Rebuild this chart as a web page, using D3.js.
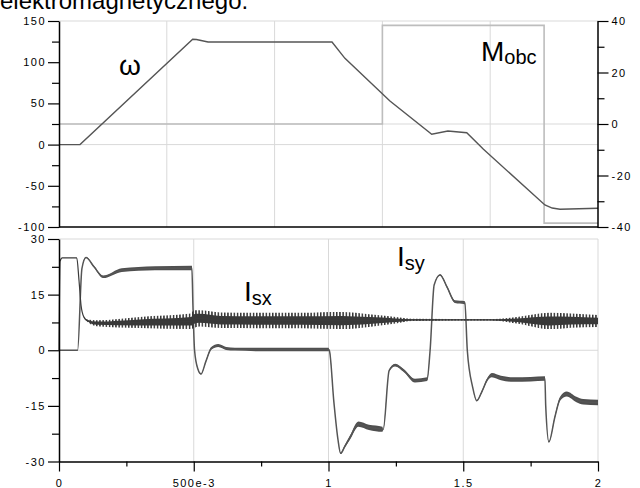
<!DOCTYPE html>
<html>
<head>
<meta charset="utf-8">
<script src="https://cdn.jsdelivr.net/npm/d3@7"></script>
<style>
  body { margin: 0; background: #fff; }
  svg { display: block; font-family: "Liberation Sans", Arial, sans-serif; }
  .tick text { font-size: 11px; letter-spacing: 1.5px; fill: #000; }
  .domain { stroke: #000; stroke-width: 1.5; }
  .tick line { stroke: #000; stroke-width: 1.2; }
</style>
</head>
<body>
<div id="chart"></div>
<script>
// speed omega (left axis, top panel)
let omT = [0, 0.078, 0.496, 0.51, 0.553, 1.013, 1.061, 1.228, 1.383, 1.443, 1.513, 1.575, 1.803, 1.83, 1.859, 2.0];
let omV = [0, 0, 127.8, 127.5, 124.5, 124.5, 104.7, 53, 12.5, 16.5, 14.4, -5.7, -73.3, -77, -78.5, -77.3];

// load torque Mobc (right axis, step)
let mobcT = [0, 1.2, 1.8, 2.0];
let mobcV = [0, 38.3, -38.5, -38.5];

// Isx current + ripple half-amplitude
let isxT = [0, 0.004, 0.012, 0.066, 0.074, 0.082, 0.092, 0.105, 0.14, 0.3, 0.49, 0.5, 0.52, 0.6, 0.9, 1.05, 1.15, 1.25, 1.31, 1.6, 1.7, 1.82, 1.9, 2.0];
let isxV = [0, 24, 24.9, 24.9, 19, 12, 9, 8, 7.3, 7.5, 7.8, 8.4, 8.6, 8.1, 8.0, 8.0, 8.0, 8.1, 8.2, 8.2, 8.1, 7.9, 8.0, 7.9];
let isxA = [0, 0, 0, 0, 0, 0, 0, 0.3, 0.8, 1.5, 2.1, 2.4, 2.2, 2.1, 2.1, 2.3, 1.7, 0.9, 0.3, 0.2, 0.9, 2.2, 1.9, 1.6];

// Isy current + ripple half-amplitude
let isyT = [0, 0.069, 0.085, 0.1, 0.13, 0.164, 0.233, 0.356, 0.493, 0.497, 0.503, 0.515, 0.527, 0.545, 0.565,
  0.591, 0.62, 0.653, 0.8, 1.0, 1.003, 1.02, 1.035, 1.045, 1.06, 1.08, 1.111, 1.15, 1.2, 1.203,
  1.225, 1.247, 1.28, 1.321, 1.366, 1.377, 1.392, 1.414, 1.44, 1.469, 1.506, 1.515, 1.535, 1.55, 1.57,
  1.59, 1.606, 1.64, 1.686, 1.75, 1.803, 1.806, 1.818, 1.84, 1.86, 1.884, 1.92, 1.945, 2.0];
let isyV = [0, 0, 22, 25, 22.5, 19.8, 21.6, 22.1, 22.2, 12, 0, -5, -6.4, -3, 0.5,
  1.3, 0.5, 0.3, 0.2, 0.2, 0, -14, -24, -27.8, -26, -23.5, -19.9, -20.8, -21.3, -21.4,
  -5.5, -4.0, -5.5, -8.2, -7.8, 0, 17.6, 20.3, 17, 13.1, 12.8, 0, -10, -13.6, -11,
  -7.8, -6.7, -7.5, -7.9, -7.8, -7.6, -15, -24.7, -18, -13, -11.8, -13.3, -13.9, -14.1];
let isyA = [0, 0, 0, 0.15, 0.2, 0.35, 0.5, 0.55, 0.6, 0, 0, 0.1, 0.15, 0.2, 0.35,
  0.4, 0.4, 0.4, 0.5, 0.5, 0, 0, 0.1, 0.2, 0.35, 0.55, 0.7, 0.7, 0.7, 0,
  0.15, 0.35, 0.4, 0.5, 0.5, 0, 0, 0.2, 0.3, 0.35, 0.4, 0, 0, 0.15, 0.3,
  0.4, 0.55, 0.6, 0.6, 0.6, 0.6, 0, 0.15, 0.35, 0.55, 0.7, 0.75, 0.75, 0.75];

// ticks
let omTicks = [-100, -50, 0, 50, 100, 150];
let omMinor = [-75, -25, 25, 75, 125];
let mTicks = [-40, -20, 0, 20, 40];
let mMinor = [-30, -10, 10, 30];
let iTicks = [-30, -15, 0, 15, 30];
let iMinor = [-22.5, -7.5, 7.5, 22.5];
let tTicks = [0, 0.5, 1, 1.5, 2];
let tTickLabels = ["0", "500e-3", "1", "1.5", "2"];
let tMinor = [0.25, 0.75, 1.25, 1.75];
let topGridT = [0.4, 0.8, 1.2, 1.6];
let botGridT = [0.5, 1, 1.5];

let zip = (t, v, a) => t.map((d, i) => ({t: d, v: v[i], a: a ? a[i] : 0}));
// plain hyphen for negatives, like the original
let fmt = d => String(d);

let svg = d3.select("#chart").append("svg")
  .attr("width", 640)
  .attr("height", 488);

// ripple texture for the Isx band
svg.append("defs").append("pattern")
  .attr("id", "rip")
  .attr("patternUnits", "userSpaceOnUse")
  .attr("width", 3.2).attr("height", 6)
  .append("rect")
  .attr("width", 1.5).attr("height", 6)
  .attr("fill", "#333");

// scales
let x = d3.scaleLinear().domain([0, 2]).range([59, 598]);
let yW = d3.scaleLinear().domain([-100, 150]).range([227, 21]);
let yM = d3.scaleLinear().domain([-40, 40]).range([227, 21]);
let yI = d3.scaleLinear().domain([-30, 30]).range([461.5, 239]);

let grid = "#d9d9d9";

// caption text cut at the top
svg.append("text")
  .attr("x", 0).attr("y", 9)
  .style("font-size", "24px")
  .text("elektromagnetycznego.");

// ---------- top panel ----------
let topG = svg.append("g");

topG.selectAll(".vg").data(topGridT).enter().append("line")
  .attr("x1", d => x(d)).attr("x2", d => x(d))
  .attr("y1", yW(150)).attr("y2", yW(-100))
  .style("stroke", grid);
topG.append("line")
  .attr("x1", x(0)).attr("x2", x(2)).attr("y1", yW(150)).attr("y2", yW(150))
  .style("stroke", grid);
topG.append("line")
  .attr("x1", x(0)).attr("x2", x(2)).attr("y1", yW(0)).attr("y2", yW(0))
  .style("stroke", grid);
topG.append("line")
  .attr("x1", x(0)).attr("x2", x(2)).attr("y1", yM(0)).attr("y2", yM(0))
  .style("stroke", grid);

// Mobc step
topG.append("path")
  .datum(zip(mobcT, mobcV))
  .attr("d", d3.line().curve(d3.curveStepAfter).x(d => x(d.t)).y(d => yM(d.v)))
  .style("fill", "none")
  .style("stroke", "#bdbdbd")
  .style("stroke-width", 1.6);

// omega
topG.append("path")
  .datum(zip(omT, omV))
  .attr("d", d3.line().x(d => x(d.t)).y(d => yW(d.v)))
  .style("fill", "none")
  .style("stroke", "#555")
  .style("stroke-width", 1.4);

topG.append("g")
  .attr("transform", "translate(" + x(0) + ",0)")
  .call(d3.axisLeft(yW).tickValues(omTicks).tickFormat(fmt).tickSize(11).tickPadding(2).tickSizeOuter(0));
topG.append("g")
  .attr("transform", "translate(" + x(0) + ",0)")
  .call(d3.axisLeft(yW).tickValues(omMinor).tickSize(7).tickFormat("").tickSizeOuter(0))
  .select(".domain").remove();

topG.append("g")
  .attr("transform", "translate(" + (x(2) - 0.5) + ",0)")
  .call(d3.axisRight(yM).tickValues(mTicks).tickFormat(fmt).tickSize(11).tickPadding(3).tickSizeOuter(0));
topG.append("g")
  .attr("transform", "translate(" + (x(2) - 0.5) + ",0)")
  .call(d3.axisRight(yM).tickValues(mMinor).tickSize(7).tickFormat("").tickSizeOuter(0))
  .select(".domain").remove();

topG.append("line")
  .attr("x1", x(0)).attr("x2", x(2))
  .attr("y1", yW(-100)).attr("y2", yW(-100))
  .style("stroke", "#000").style("stroke-width", 1.5);

// labels
topG.append("text")
  .attr("x", 119).attr("y", 75)
  .style("font-size", "28px")
  .text("ω");
let mLab = topG.append("text").attr("x", 481).attr("y", 61).style("font-size", "28px");
mLab.append("tspan").text("M");
mLab.append("tspan").attr("dy", 3).style("font-size", "20px").text("obc");

// ---------- bottom panel ----------
let botG = svg.append("g");

botG.selectAll(".vg").data(botGridT).enter().append("line")
  .attr("x1", d => x(d)).attr("x2", d => x(d))
  .attr("y1", yI(30)).attr("y2", yI(-30))
  .style("stroke", grid);
botG.append("line")
  .attr("x1", x(0)).attr("x2", x(2)).attr("y1", yI(30)).attr("y2", yI(30))
  .style("stroke", grid);
botG.append("line")
  .attr("x1", x(0)).attr("x2", x(2)).attr("y1", yI(0)).attr("y2", yI(0))
  .style("stroke", grid);
botG.append("line")
  .attr("x1", x(2)).attr("x2", x(2)).attr("y1", yI(30)).attr("y2", yI(-30))
  .style("stroke", grid);

let isy = zip(isyT, isyV, isyA);
let isx = zip(isxT, isxV, isxA);
let smooth = d3.curveMonotoneX;

// Isy: band + line
botG.append("path")
  .datum(isy)
  .attr("d", d3.area().curve(smooth).x(d => x(d.t)).y0(d => yI(d.v - d.a)).y1(d => yI(d.v + d.a)))
  .style("fill", "#4f4f4f");
botG.append("path")
  .datum(isy)
  .attr("d", d3.line().curve(smooth).x(d => x(d.t)).y(d => yI(d.v)))
  .style("fill", "none")
  .style("stroke", "#555")
  .style("stroke-width", 1.5);

// Isx: spiky outer band, solid core, line
botG.append("path")
  .datum(isx)
  .attr("d", d3.area().curve(smooth).x(d => x(d.t)).y0(d => yI(d.v - d.a)).y1(d => yI(d.v + d.a)))
  .style("fill", "url(#rip)");
botG.append("path")
  .datum(isx)
  .attr("d", d3.area().curve(smooth).x(d => x(d.t)).y0(d => yI(d.v - d.a * 0.55)).y1(d => yI(d.v + d.a * 0.55)))
  .style("fill", "#383838");
botG.append("path")
  .datum(isx)
  .attr("d", d3.line().curve(smooth).x(d => x(d.t)).y(d => yI(d.v)))
  .style("fill", "none")
  .style("stroke", "#3a3a3a")
  .style("stroke-width", 1.2);

botG.append("g")
  .attr("transform", "translate(" + x(0) + ",0)")
  .call(d3.axisLeft(yI).tickValues(iTicks).tickFormat(fmt).tickSize(11).tickPadding(2).tickSizeOuter(0));
botG.append("g")
  .attr("transform", "translate(" + x(0) + ",0)")
  .call(d3.axisLeft(yI).tickValues(iMinor).tickSize(7).tickFormat("").tickSizeOuter(0))
  .select(".domain").remove();

botG.append("g")
  .attr("transform", "translate(0," + yI(-30) + ")")
  .call(d3.axisBottom(x).tickValues(tTicks).tickSize(10).tickPadding(8)
    .tickFormat((d, i) => tTickLabels[i]).tickSizeOuter(0));
botG.append("g")
  .attr("transform", "translate(0," + yI(-30) + ")")
  .call(d3.axisBottom(x).tickValues(tMinor).tickSize(5).tickFormat("").tickSizeOuter(0))
  .select(".domain").remove();

// labels
let sx = botG.append("text").attr("x", 244).attr("y", 300.5).style("font-size", "28px");
sx.append("tspan").text("I");
sx.append("tspan").attr("dy", 4.5).style("font-size", "20px").text("sx");
let sy = botG.append("text").attr("x", 397).attr("y", 265.5).style("font-size", "28px");
sy.append("tspan").text("I");
sy.append("tspan").attr("dy", 4.5).style("font-size", "20px").text("sy");
</script>
</body>
</html>
